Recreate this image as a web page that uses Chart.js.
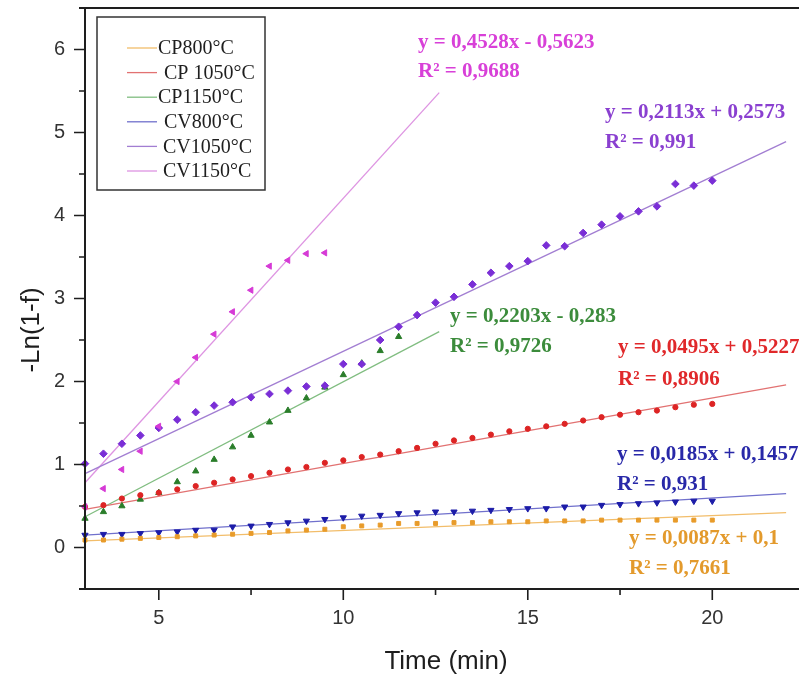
<!DOCTYPE html>
<html>
<head>
<meta charset="utf-8">
<script src="https://cdn.jsdelivr.net/npm/chart.js@4.4.1/dist/chart.umd.min.js"></script>
<style>
html,body{margin:0;padding:0;background:#fff;}
#wrap{width:799px;height:679px;position:relative;}
</style>
</head>
<body>
<div id="wrap"><canvas id="c" width="799" height="679"></canvas></div>
<script>
// ---------- DATA ----------
const seriesLabels = ["CP800°C", "CP 1050°C", "CP1150°C", "CV800°C", "CV1050°C", "CV1150°C"];
const timeMin = [3,3.5,4,4.5,5,5.5,6,6.5,7,7.5,8,8.5,9,9.5,10,10.5,11,11.5,12,12.5,13,13.5,14,14.5,15,15.5,16,16.5,17,17.5,18,18.5,19,19.5,20];
const cp800  = [0.09,0.09,0.10,0.11,0.12,0.13,0.14,0.15,0.16,0.17,0.18,0.20,0.21,0.22,0.25,0.26,0.27,0.29,0.29,0.29,0.30,0.30,0.31,0.31,0.31,0.32,0.32,0.32,0.33,0.33,0.33,0.33,0.33,0.33,0.33];
const cp1050 = [0.49,0.51,0.59,0.63,0.66,0.70,0.74,0.78,0.82,0.86,0.90,0.94,0.97,1.02,1.05,1.09,1.12,1.16,1.20,1.25,1.29,1.32,1.36,1.40,1.43,1.46,1.49,1.53,1.57,1.60,1.63,1.65,1.69,1.72,1.73];
const cp1150 = [0.35,0.43,0.50,0.58,0.66,0.79,0.92,1.06,1.21,1.35,1.51,1.65,1.80,1.93,2.08,2.22,2.37,2.54];
const cv800  = [0.15,0.16,0.16,0.17,0.18,0.19,0.21,0.21,0.25,0.26,0.28,0.30,0.32,0.34,0.36,0.38,0.39,0.41,0.42,0.43,0.43,0.44,0.45,0.46,0.47,0.47,0.49,0.49,0.51,0.52,0.53,0.54,0.55,0.56,0.56];
const cv1050 = [1.01,1.13,1.25,1.35,1.44,1.54,1.63,1.71,1.75,1.81,1.85,1.89,1.94,1.95,2.21,2.21,2.50,2.66,2.80,2.95,3.02,3.17,3.31,3.39,3.45,3.64,3.63,3.79,3.89,3.99,4.05,4.11,4.38,4.36,4.42];
const cv1150 = [0.49,0.71,0.94,1.16,1.46,2.00,2.29,2.57,2.84,3.10,3.39,3.46,3.54,3.55];
// fitted trend lines (start/end)
const fitStartX = [3, 3, 3, 3, 3, 3];
const fitEndX   = [22, 22, 12.6, 22, 22, 12.6];
const fitStartY = [0.08, 0.46, 0.37, 0.15, 0.89, 0.78];
const fitEndY   = [0.42, 1.96, 2.60, 0.65, 4.89, 5.48];
const equations = ["y = 0,0087x + 0,1", "y = 0,0495x + 0,5227", "y = 0,2203x - 0,283", "y = 0,0185x + 0,1457", "y = 0,2113x + 0,2573", "y = 0,4528x - 0,5623"];
const rSquared  = ["R² = 0,7661", "R² = 0,8906", "R² = 0,9726", "R² = 0,931", "R² = 0,991", "R² = 0,9688"];
const xTickValues = [5, 10, 15, 20];
const yTickValues = [0, 1, 2, 3, 4, 5, 6];
const xAxisTitle = "Time (min)";
const yAxisTitle = "-Ln(1-f)";

// ---------- STYLE ----------
const pointColors = ['#e89b2a', '#dd2424', '#2a7d2a', '#1c1ca8', '#7a2ed6', '#d63ad6'];
const lineColors  = ['#f2bd6a', '#e27272', '#80bd80', '#7070cc', '#a27ed2', '#de94e2'];
const textColors  = ['#e39a2c', '#e0282a', '#3c8c3c', '#2828a8', '#8a40d0', '#d840d8'];
const styles = [
  {pointStyle:'rect', radius:2.8, rotation:0},
  {pointStyle:'circle', radius:2.6, rotation:0},
  {pointStyle:'triangle', radius:3.6, rotation:0},
  {pointStyle:'triangle', radius:3.6, rotation:180},
  {pointStyle:'rectRot', radius:3.8, rotation:0},
  {pointStyle:'triangle', radius:3.6, rotation:-90}
];
const drawOrder = [3, 3, 3, 3, 1, 0];
// annotation layout: [left x, eq centre y, R² centre y] (pixels)
const annLayout = [[629,539,569],[618,348,380],[450,317,347],[617,455,485],[605,113,143],[418,43,72]];
const legendGap = [0, 6, 0, 6, 5, 5];

const seriesValues = [cp800, cp1050, cp1150, cv800, cv1050, cv1150];
const datasets = [];
seriesValues.forEach((vals, i) => {
  datasets.push({
    label: seriesLabels[i],
    data: vals.map((v, k) => ({x: timeMin[k], y: v})),
    showLine: false,
    pointStyle: styles[i].pointStyle,
    pointRadius: styles[i].radius,
    rotation: styles[i].rotation,
    backgroundColor: pointColors[i],
    borderColor: pointColors[i],
    pointBorderWidth: 1,
    order: drawOrder[i],
    clip: false
  });
});
seriesValues.forEach((vals, i) => {
  datasets.push({
    label: seriesLabels[i] + ' fit',
    data: [{x: fitStartX[i], y: fitStartY[i]}, {x: fitEndX[i], y: fitEndY[i]}],
    showLine: true,
    borderColor: lineColors[i],
    borderWidth: 1.3,
    pointRadius: 0,
    fill: false,
    order: 10,
    clip: false
  });
});

const overlay = {
  id: 'overlay',
  beforeDraw(chart) {
    const ctx = chart.ctx;
    ctx.save();
    ctx.fillStyle = '#fff';
    ctx.fillRect(0, 0, chart.width, chart.height);
    ctx.restore();
  },
  afterDraw(chart) {
    const ctx = chart.ctx, xs = chart.scales.x, ys = chart.scales.y, a = chart.chartArea;
    ctx.save();
    // frame
    ctx.strokeStyle = '#1e1e1e';
    ctx.lineWidth = 2;
    ctx.beginPath();
    ctx.moveTo(a.left - 6, a.top); ctx.lineTo(a.right, a.top);
    ctx.moveTo(a.left, a.top); ctx.lineTo(a.left, a.bottom);
    ctx.moveTo(a.left - 6, a.bottom); ctx.lineTo(a.right, a.bottom);
    ctx.stroke();
    // y ticks (major + minor)
    ctx.lineWidth = 1.6;
    ctx.beginPath();
    for (let k = 0; k < yTickValues.length; k++) {
      const v = yTickValues[k];
      const p = ys.getPixelForValue(v);
      ctx.moveTo(a.left - 11, p); ctx.lineTo(a.left, p);
      const m = ys.getPixelForValue(v + 0.5);
      if (m > a.top + 2) { ctx.moveTo(a.left - 6, m); ctx.lineTo(a.left, m); }
    }
    // x ticks
    for (let k = 0; k < xTickValues.length; k++) {
      const v = xTickValues[k];
      const p = xs.getPixelForValue(v);
      ctx.moveTo(p, a.bottom); ctx.lineTo(p, a.bottom + 11);
      const m = xs.getPixelForValue(v + 2.5);
      if (m < a.right - 2) { ctx.moveTo(m, a.bottom); ctx.lineTo(m, a.bottom + 6); }
    }
    ctx.stroke();
    // axis titles
    ctx.fillStyle = '#1e1e1e';
    ctx.font = '26px "Liberation Sans", Arial, sans-serif';
    ctx.textAlign = 'center';
    ctx.textBaseline = 'middle';
    ctx.fillText(xAxisTitle, 446, 662);
    ctx.save();
    ctx.translate(32, 330);
    ctx.rotate(-Math.PI / 2);
    ctx.fillText(yAxisTitle, 0, 0);
    ctx.restore();
    // annotations
    ctx.font = 'bold 21px "Liberation Serif", "Times New Roman", serif';
    ctx.textAlign = 'left';
    for (let i = 0; i < equations.length; i++) {
      ctx.fillStyle = textColors[i];
      ctx.fillText(equations[i], annLayout[i][0], annLayout[i][1]);
      ctx.fillText(rSquared[i], annLayout[i][0], annLayout[i][2]);
    }
    // legend
    const bx = 97, by = 17, bw = 168, bh = 173;
    ctx.fillStyle = '#fff';
    ctx.fillRect(bx, by, bw, bh);
    ctx.strokeStyle = '#333';
    ctx.lineWidth = 1.5;
    ctx.strokeRect(bx, by, bw, bh);
    ctx.font = '20px "Liberation Serif", "Times New Roman", serif';
    for (let i = 0; i < seriesLabels.length; i++) {
      const y = 48 + i * 24.6;
      ctx.strokeStyle = lineColors[i];
      ctx.lineWidth = 1.3;
      ctx.beginPath(); ctx.moveTo(127, y); ctx.lineTo(157, y); ctx.stroke();
      ctx.fillStyle = '#1e1e1e';
      ctx.fillText(seriesLabels[i], 158 + legendGap[i], y + 1);
    }
    ctx.restore();
  }
};

new Chart(document.getElementById('c'), {
  type: 'scatter',
  data: { datasets: datasets },
  options: {
    responsive: false,
    animation: false,
    devicePixelRatio: 1,
    layout: { autoPadding: false, padding: { top: 8, left: 0, right: 0, bottom: 0 } },
    plugins: { legend: { display: false }, tooltip: { enabled: false } },
    scales: {
      x: {
        type: 'linear', min: 3, max: 22.35,
        afterBuildTicks: s => { s.ticks = xTickValues.map(v => ({ value: v })); },
        afterFit: s => { s.height = 90; s.paddingLeft = 0; s.paddingRight = 0; },
        grid: { display: false, drawTicks: false, tickLength: 0 },
        border: { display: false },
        ticks: { autoSkip: false, maxRotation: 0, padding: 17, color: '#333',
                 font: { family: '"Liberation Sans", Arial, sans-serif', size: 20 } }
      },
      y: {
        type: 'linear', min: -0.5, max: 6.5,
        afterBuildTicks: s => { s.ticks = yTickValues.map(v => ({ value: v })); },
        afterFit: s => { s.width = 85; s.paddingTop = 0; s.paddingBottom = 0; },
        grid: { display: false, drawTicks: false, tickLength: 0 },
        border: { display: false },
        ticks: { autoSkip: false, padding: 20, color: '#333',
                 font: { family: '"Liberation Sans", Arial, sans-serif', size: 20 } }
      }
    }
  },
  plugins: [overlay]
});
</script>
</body>
</html>
